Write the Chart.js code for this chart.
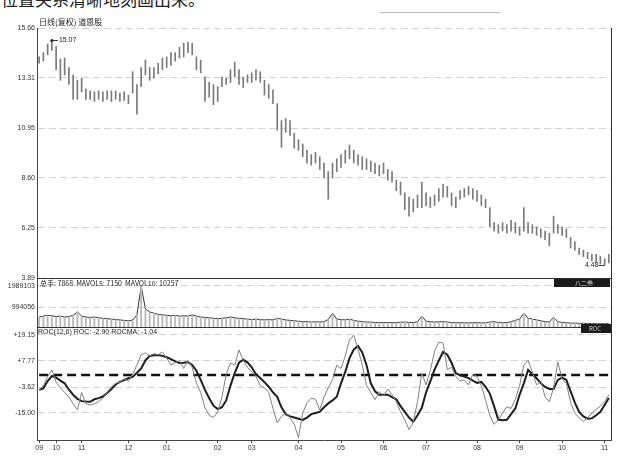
<!DOCTYPE html>
<html>
<head>
<meta charset="utf-8">
<script src="https://cdn.jsdelivr.net/npm/chart.js@4.4.1/dist/chart.umd.min.js"></script>
<style>
  body { margin: 0; background: #fff; width: 640px; height: 458px; overflow: hidden; position: relative; }
  #cap { position: absolute; left: 1px; top: -14px; font: 17px "Noto Sans CJK SC"; color: #222; white-space: nowrap; }
  #rule { position: absolute; left: 380px; top: 12px; width: 120px; height: 1px; background: #bbb; }
  canvas { position: absolute; left: 0; top: 0; }
</style>
</head>
<body>
<div id="cap">位置关系清晰地刻画出来。</div>
<div id="rule"></div>
<canvas id="kChart" width="640" height="458"></canvas>
<script>
// month labels and how many bars fall in each month
const monthNames = ['09', '10', '11', '12', '01', '02', '03', '04', '05', '06', '07', '08', '09', '10', '11'];
const barsPerMonth = [4, 6, 11, 9, 12, 8, 11, 10, 10, 10, 12, 10, 10, 10, 2];

// price (high / low of each bar)
const high = [
  14.3, 14.5, 14.9, 15.07, 14.8, 14.2, 14.25, 13.8, 13.45, 13.2,
  13.3, 12.8, 12.7, 12.65, 12.7, 12.65, 12.7, 12.7, 12.7, 12.6,
  12.65, 12.5, 13.6, 13.0, 13.8, 14.15, 13.8, 13.8, 14.0, 14.25,
  14.3, 14.5, 14.5, 14.75, 14.95, 15.0, 14.95, 14.3, 14.15, 13.35,
  13.1, 13.0, 12.9, 13.35, 13.3, 13.7, 14.05, 13.7, 13.35, 13.45,
  13.55, 13.7, 13.6, 13.2, 13.0, 12.75, 12.1, 11.3, 11.4, 11.3,
  10.7, 10.4, 10.2, 9.9, 9.7, 9.8, 9.6, 9.3, 8.9, 9.3,
  9.5, 9.7, 9.9, 10.15, 9.9, 9.7, 9.6, 9.5, 9.4, 9.3,
  9.2, 9.3, 9.0, 8.9, 8.5, 8.4, 7.9, 7.7, 7.6, 7.8,
  8.4, 7.9, 7.7, 7.8, 8.1, 8.3, 8.2, 7.9, 7.7, 8.0,
  8.1, 8.2, 8.1, 8.0, 7.8, 7.6, 7.2, 6.5, 6.4, 6.5,
  6.4, 6.6, 6.5, 6.3, 7.2, 6.5, 6.4, 6.3, 6.2, 6.1,
  6.0, 6.8, 6.4, 6.3, 6.2, 5.8, 5.6, 5.3, 5.2, 5.1,
  5.0, 5.0, 4.9, 4.8, 5.0
];
const low = [
  14.0, 14.1, 14.4, 14.6, 13.7, 13.2, 13.45, 13.0, 12.3, 12.3,
  12.65, 12.3, 12.3, 12.2, 12.3, 12.2, 12.3, 12.2, 12.3, 12.2,
  12.25, 12.1, 12.6, 11.6, 12.9, 13.45, 13.2, 13.3, 13.5, 13.7,
  13.8, 13.9, 14.1, 14.25, 14.3, 14.5, 14.4, 13.7, 13.55, 12.2,
  12.4, 12.05, 12.2, 12.9, 13.0, 13.1, 13.35, 13.0, 12.85, 13.1,
  13.1, 13.2, 13.1, 12.5, 12.35, 12.1, 10.85, 10.05, 10.75, 10.6,
  10.0, 9.9, 9.6, 9.3, 9.2, 9.3, 9.0, 8.6, 7.6, 8.6,
  8.9, 9.1, 9.3, 9.5, 9.3, 9.2, 9.0, 9.0, 8.9, 8.8,
  8.7, 8.8, 8.5, 8.4, 8.0, 7.8, 7.1, 6.8, 7.0, 7.2,
  7.2, 7.3, 7.2, 7.3, 7.5, 7.7, 7.7, 7.3, 7.2, 7.6,
  7.7, 7.8, 7.6, 7.5, 7.3, 7.2, 6.3, 6.1, 6.0, 6.1,
  6.0, 6.1, 6.0, 5.9, 6.1, 6.0, 6.0, 5.9, 5.8, 5.7,
  5.4, 6.0, 6.0, 5.9, 5.8, 5.3, 5.2, 5.0, 4.9, 4.8,
  4.7, 4.6, 4.55, 4.48, 4.6
];

// volume (总手)
const volume = [
  520000, 560000, 600000, 580000, 540000, 560000, 520000, 540000, 600000, 760000,
  560000, 520000, 500000, 520000, 480000, 460000, 440000, 420000, 400000, 380000,
  360000, 340000, 380000, 620000, 1980000, 900000, 760000, 700000, 640000, 620000,
  600000, 580000, 600000, 560000, 580000, 560000, 620000, 560000, 520000, 500000,
  480000, 460000, 440000, 460000, 480000, 520000, 480000, 460000, 440000, 420000,
  400000, 420000, 400000, 380000, 400000, 380000, 460000, 420000, 380000, 360000,
  340000, 320000, 300000, 300000, 280000, 300000, 280000, 300000, 400000, 700000,
  420000, 400000, 380000, 420000, 360000, 320000, 300000, 280000, 280000, 260000,
  260000, 250000, 260000, 250000, 250000, 270000, 280000, 260000, 260000, 300000,
  560000, 320000, 300000, 280000, 290000, 300000, 280000, 260000, 250000, 250000,
  240000, 240000, 250000, 250000, 240000, 240000, 280000, 300000, 260000, 250000,
  250000, 300000, 360000, 420000, 700000, 460000, 420000, 380000, 340000, 300000,
  280000, 500000, 300000, 260000, 250000, 230000, 230000, 220000, 220000, 210000,
  210000, 200000, 200000, 210000, 200000
];

// ROC(12,6)
const roc = [
  -5, -3, 1, 3.9, -1.5, -4, -6, -8, -11, -13.6,
  -6, -11, -11.5, -11, -10, -8.5, -6, -3.5, -2, -1.5,
  0, -1, 2, 6, 10.5, 11.3, 10, 11, 10.5, 11.7,
  9, 6, 7, 8, 4.5, 8, 5, -2, -6, -12.7,
  -16, -17, -14.5, -8, 2, 6.9, 6, 12.6, 8, 5,
  3, 1, -3, -4, -6, -13, -19.3, -16.5, -15, -17,
  -20, -25.8, -15, -10.5, -8.5, -9, -13.6, -8, -4, -0.5,
  6, 4.5, 10, 17, 19.1, 13, 6, -3, -6, -9.2,
  -5.7, -7.5, -4.5, -7, -10, -14.5, -18, -22.3, -19, -10,
  2.5, -2.7, 3.5, 12, 16, 15.6, 4, 5, 1, -1,
  -0.5, -2.7, 2, 1, -3, -9.5, -16, -20, -18, -15,
  -12.3, -13, -9, -3, 6, 8, 3, -2.7, -1, -8,
  -10, -4, 7.3, 0, -2, -10.5, -15, -17.1, -18.8, -17,
  -15, -13.5, -12, -10, -7
];
const rocma = [
  -4.9, -4.2, -1.0, 1.2, 0.5, -0.8, -2.0, -4.8, -7.0, -8.8,
  -9.8, -10.0, -10.1, -9.0, -8.5, -7.8, -6.2, -4.5, -2.5, -1.4,
  -0.6, 0.2, 0.8, 2.6, 4.5, 8.0, 10.0, 10.3, 10.4, 10.0,
  9.4, 8.6, 7.6, 6.9, 7.0, 7.3, 6.0, 3.5, -0.5, -4.9,
  -8.5, -11.8, -13.3, -12.5, -9.5, -3.0, 2.5, 7.0, 8.3, 7.2,
  5.0, 2.0, 0.3, -1.5, -3.5, -6.0, -7.9, -12.5, -15.5, -16.5,
  -17.0, -17.5, -18.0, -17.0, -15.5, -15.0, -14.5, -12.5, -10.8, -9.5,
  -7.9, -2.0, 3.0, 9.0, 12.8, 14.3, 11.5, 6.0, -2.0, -5.5,
  -7.0, -7.0, -7.0, -8.0, -9.0, -12.0, -14.5, -17.0, -18.8, -16.0,
  -12.7, -6.0, -1.2, 4.0, 8.0, 11.7, 10.5, 7.0, 2.5, 1.5,
  1.0, 0.3, -0.8, -1.8, -1.4, -3.5, -6.5, -12.0, -18.0, -18.2,
  -18.0, -15.5, -13.0, -7.0, -2.0, 3.9, 2.0, 0.2, -2.0, -3.6,
  -4.5, -4.5, -0.5, 0.5, -0.5, -5.5, -10.5, -14.5, -16.5, -17.5,
  -17.3, -16.0, -14.5, -11.5, -8.4
];
const rocRef = 1.6;

// axis tick values
const priceTicks = [3.89, 6.25, 8.60, 10.95, 13.31, 15.66];
const volTicks = [994056, 1989103];
const rocTicks = [-15.00, -3.62, 7.77, 19.15];

const days = [];
barsPerMonth.forEach((n, m) => {
  for (let k = 0; k < n; k++) days.push(monthNames[m]);
});
const isMonthStart = i => i === 0 || days[i] !== days[i - 1];

const tickFont = { family: 'Liberation Sans', size: 7 };
const fixWidth = s => { s.width = 37; };

function yAxis(extra) {
  return Object.assign({
    position: 'left',
    stack: 'k',
    grid: { color: '#d2d2d2', drawTicks: false },
    border: { color: '#444', dash: [7, 4] },
    ticks: { font: tickFont, color: '#333', padding: 2 },
    afterFit: fixWidth
  }, extra);
}

// texts and frame lines
const decorations = {
  id: 'decorations',
  afterDatasetsDraw(chart) {
    const c = chart.ctx;
    const a = chart.chartArea;
    const yP = chart.scales.yPrice, yV = chart.scales.yVol, yR = chart.scales.yRoc, x = chart.scales.x;
    c.save();
    c.strokeStyle = '#333';
    c.lineWidth = 1;
    c.beginPath();
    c.moveTo(a.left, Math.round(yP.bottom) + 0.5); c.lineTo(a.right, Math.round(yP.bottom) + 0.5);
    c.moveTo(a.left, Math.round(yV.bottom) - 0.5); c.lineTo(a.right, Math.round(yV.bottom) - 0.5);
    c.moveTo(a.right + 0.5, a.top); c.lineTo(a.right + 0.5, a.bottom);
    c.stroke();

    c.fillStyle = '#222';
    c.textBaseline = 'alphabetic';
    c.font = '8px "Noto Sans CJK SC"';
    c.fillText('日线(复权) 道恩股', a.left + 2, yP.top - 3);
    c.font = '7px "Noto Sans CJK SC"';
    c.fillText('总手: 7868  MAVOL5: 7150  MAVOL10: 10257', a.left + 3, yV.top + 8);
    c.font = '7px "Liberation Sans"';
    c.fillText('ROC(12,6) ROC: -2.90 ROCMA: -1.04', a.left + 1, yR.top + 6);

    // dark tags at right
    c.fillStyle = '#1a1a1a';
    c.fillRect(a.right - 57, yV.top + 1, 56, 8);
    c.fillRect(a.right - 30, yR.top - 4, 30, 9);
    c.fillStyle = '#ddd';
    c.font = '6px "Noto Sans CJK SC"';
    c.fillText('八二叁', a.right - 36, yV.top + 7);
    c.fillText('ROC', a.right - 22, yR.top + 3);

    // max / min marks
    const hi = high.indexOf(Math.max(...high));
    const lo = low.indexOf(Math.min(...low));
    const hx = x.getPixelForValue(hi), hy = yP.getPixelForValue(high[hi]);
    c.fillStyle = '#222';
    c.beginPath(); c.arc(hx, hy, 1.5, 0, Math.PI * 2); c.fill();
    c.beginPath(); c.moveTo(hx, hy); c.lineTo(hx + 6, hy); c.stroke();
    c.font = '7px "Liberation Sans"';
    c.textBaseline = 'middle';
    c.fillText(high[hi].toFixed(2), hx + 7, hy);
    const lx = x.getPixelForValue(lo), ly = yP.getPixelForValue(low[lo]);
    c.textAlign = 'right';
    c.fillText(low[lo].toFixed(2), lx - 6, ly);
    c.beginPath(); c.moveTo(lx - 6, ly); c.lineTo(lx, ly); c.stroke();
    c.restore();
  }
};

new Chart(document.getElementById('kChart'), {
  type: 'bar',
  data: {
    labels: days,
    datasets: [
      {
        type: 'bar', label: 'K', yAxisID: 'yPrice', grouped: false,
        data: low.map((l, i) => [l, high[i]]),
        backgroundColor: '#7a7a7a', barThickness: 1
      },
      {
        type: 'bar', label: '总手', yAxisID: 'yVol', grouped: false,
        data: volume,
        backgroundColor: '#b9b9b9', barPercentage: 0.45, categoryPercentage: 1
      },
      {
        type: 'line', label: '总手线', yAxisID: 'yVol',
        data: volume, borderColor: '#333', borderWidth: 1, pointRadius: 0
      },
      {
        type: 'line', label: 'ROC', yAxisID: 'yRoc',
        data: roc, borderColor: '#808080', borderWidth: 1, pointRadius: 0
      },
      {
        type: 'line', label: 'ROCMA', yAxisID: 'yRoc',
        data: rocma, borderColor: '#1e1e1e', borderWidth: 2, pointRadius: 0
      },
      {
        type: 'line', label: 'ref', yAxisID: 'yRoc',
        data: days.map(() => rocRef), borderColor: '#111', borderWidth: 2.5,
        borderDash: [9, 5], pointRadius: 0
      }
    ]
  },
  options: {
    responsive: false,
    animation: false,
    devicePixelRatio: 1,
    layout: { padding: { left: 0, right: 29, top: 28, bottom: 0 } },
    plugins: { legend: { display: false }, tooltip: { enabled: false } },
    scales: {
      x: {
        type: 'category',
        offset: true,
        grid: { drawOnChartArea: false, offset: false, tickLength: 3, color: '#444' },
        border: { color: '#444' },
        ticks: { autoSkip: false, maxRotation: 0, padding: 1, font: tickFont, color: '#333' },
        afterBuildTicks: s => { s.ticks = s.ticks.filter(t => isMonthStart(t.value)); },
        afterFit: s => { s.height = 18; }
      },
      yPrice: yAxis({
        stackWeight: 250, weight: 3, min: 3.89, max: 15.66,
        afterBuildTicks: s => { s.ticks = priceTicks.map(v => ({ value: v })); },
        ticks: { font: tickFont, color: '#333', padding: 2, callback: v => v.toFixed(2) }
      }),
      yVol: yAxis({
        stackWeight: 50, weight: 2, min: 0, max: 2367000,
        afterBuildTicks: s => { s.ticks = volTicks.map(v => ({ value: v })); },
        ticks: { font: tickFont, color: '#333', padding: 2, callback: v => String(v) }
      }),
      yRoc: yAxis({
        stackWeight: 112, weight: 1, min: -26.82, max: 22.21,
        afterBuildTicks: s => { s.ticks = rocTicks.map(v => ({ value: v })); },
        ticks: { font: tickFont, color: '#333', padding: 2, callback: v => (v > 0 ? '+' : '') + v.toFixed(2) }
      })
    }
  },
  plugins: [decorations]
});
</script>
</body>
</html>
